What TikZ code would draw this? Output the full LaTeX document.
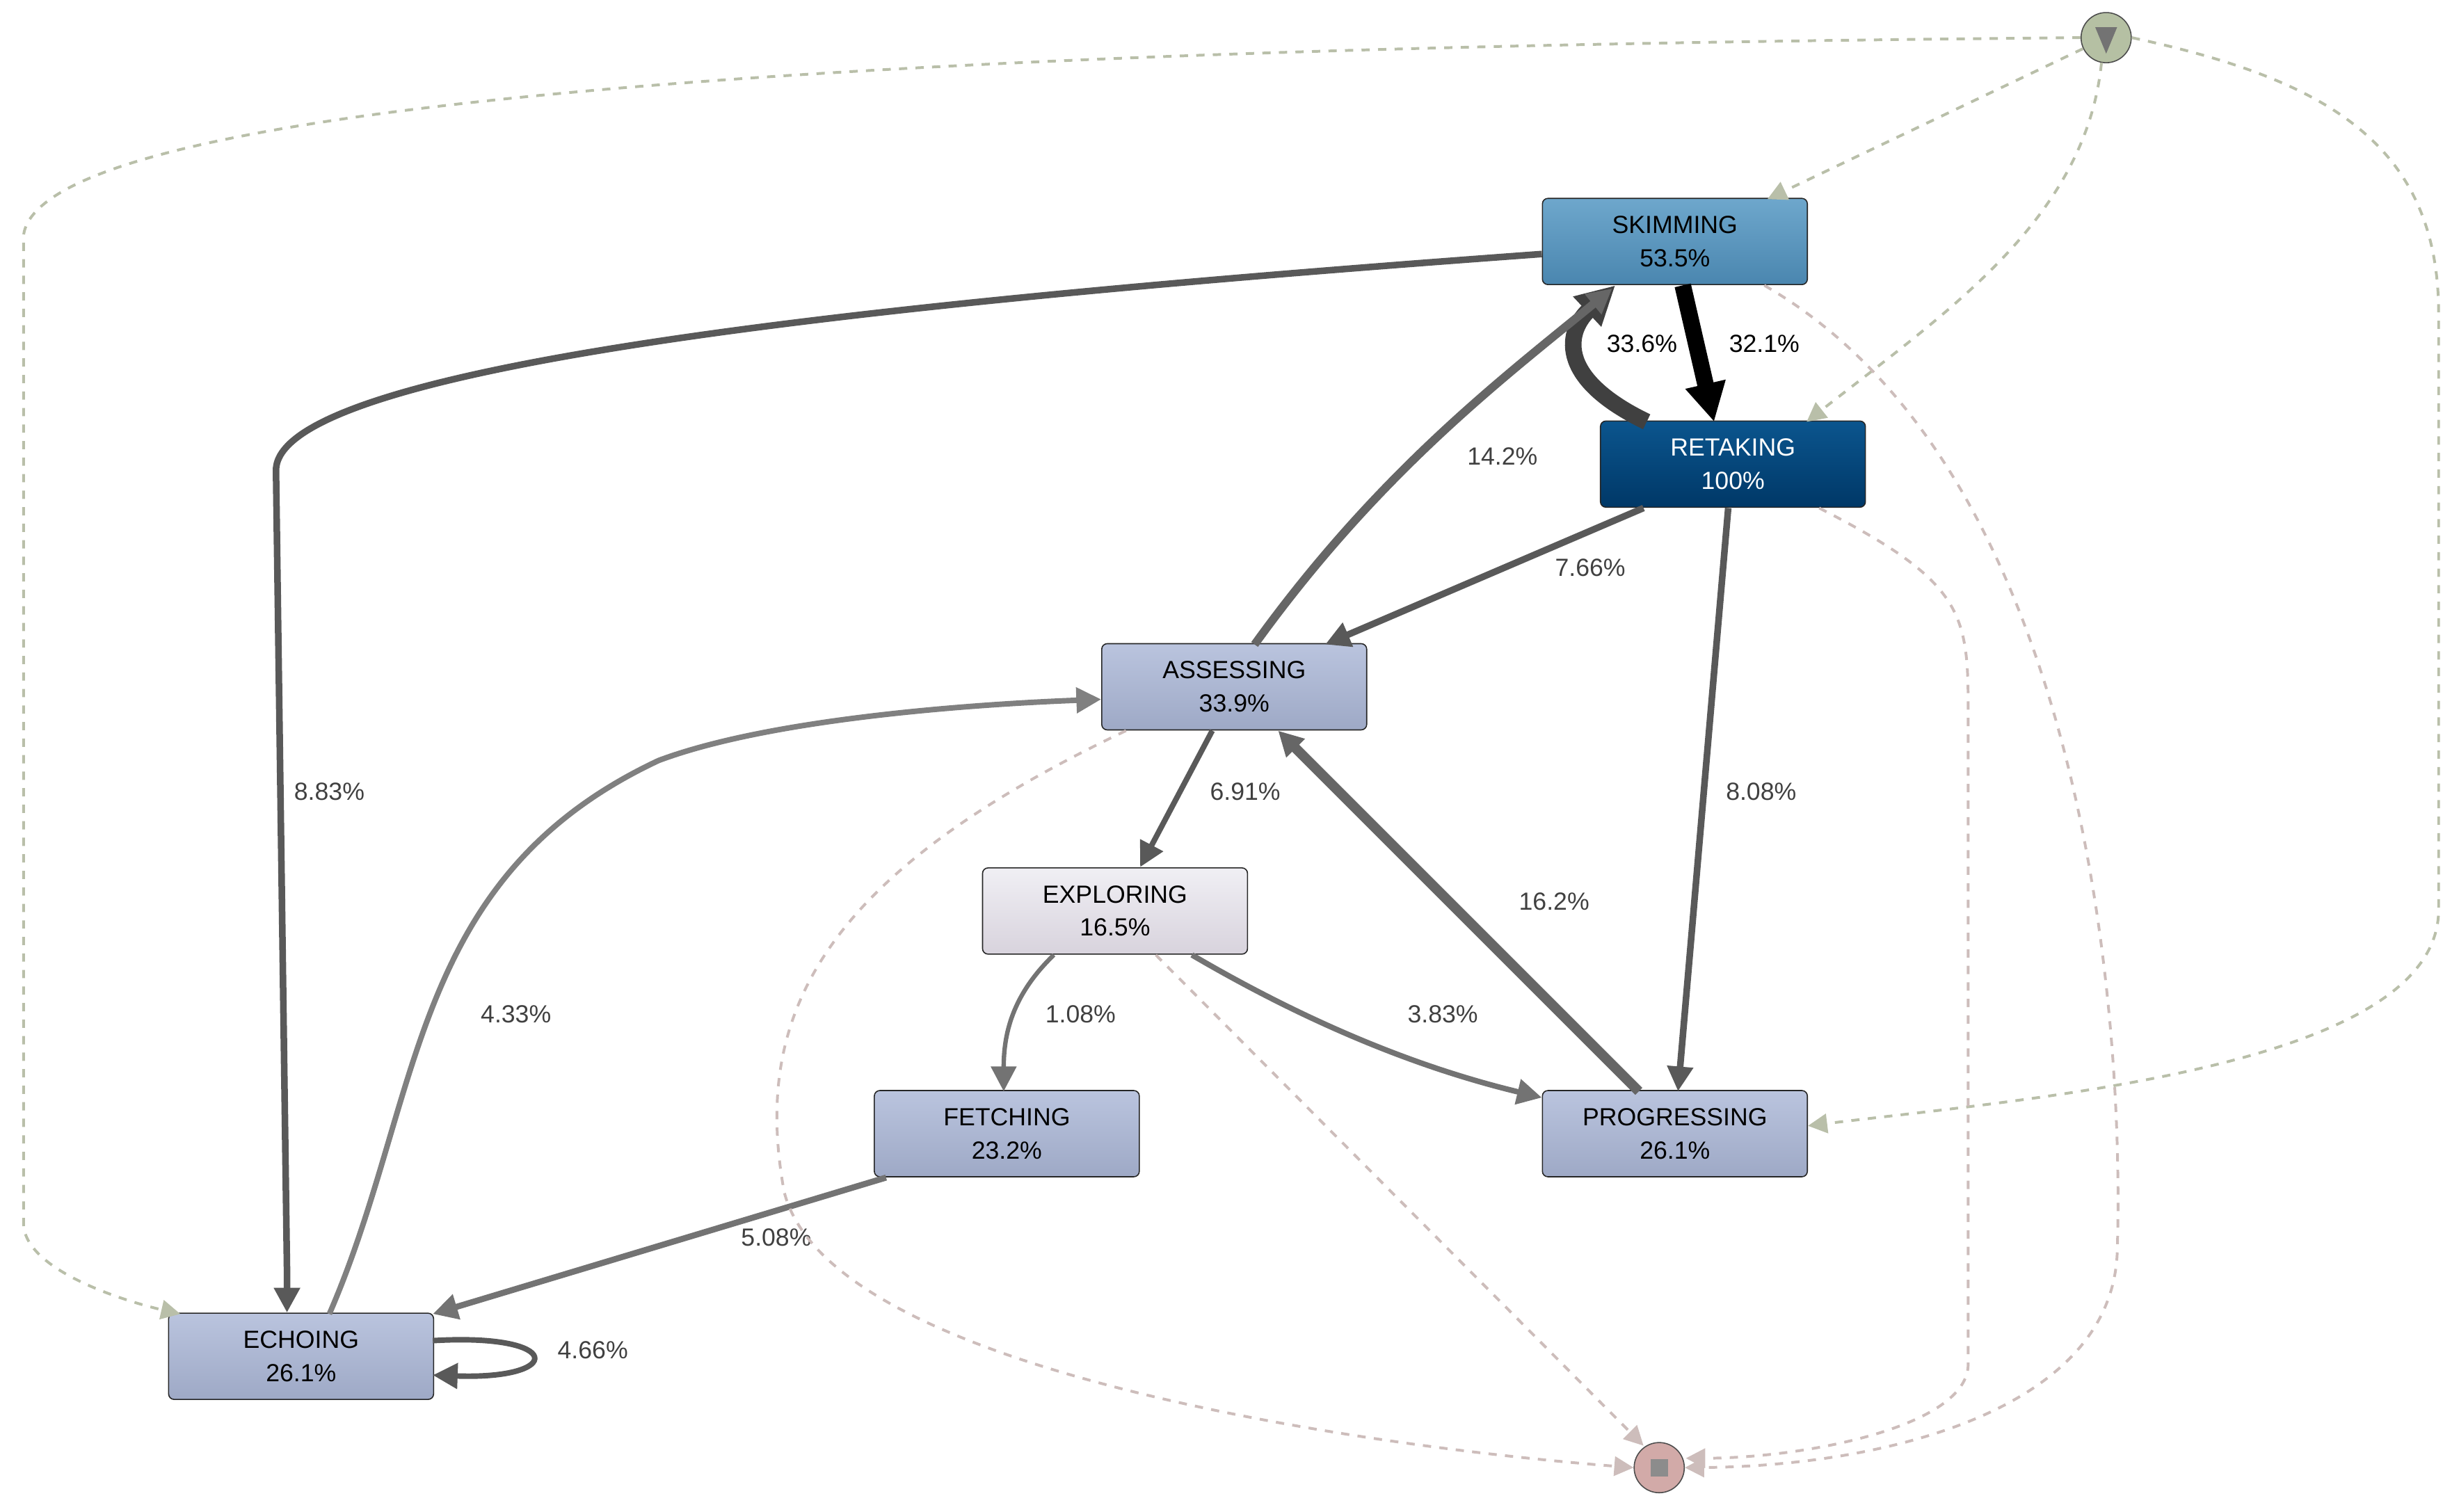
\documentclass[tikz,border=0pt]{standalone}
\usepackage{fontspec}
\setmainfont{Liberation Sans}
\usetikzlibrary{arrows.meta,shapes.geometric}
\definecolor{boxtop}{HTML}{BAC4DE}
\definecolor{boxbot}{HTML}{9EA9C6}
\definecolor{skimtop}{HTML}{6EA7CC}
\definecolor{skimbot}{HTML}{4A86AF}
\definecolor{retaketop}{HTML}{0B558E}
\definecolor{retakebot}{HTML}{003867}
\definecolor{exptop}{HTML}{F0EFF4}
\definecolor{expbot}{HTML}{D8D3DD}
\definecolor{startc}{HTML}{B5C0A3}
\definecolor{endc}{HTML}{D2AAA8}
\definecolor{dstart}{HTML}{B9BFA9}
\definecolor{dend}{HTML}{CDBDBB}
\tikzset{
  act/.style={draw=black!85, rounded corners=2pt, minimum width=3.38cm, minimum height=1.1cm,
    align=center, font=\fontsize{9}{12}\selectfont, top color=boxtop, bottom color=boxbot},
  flow/.style={-{Triangle[length=9pt,width=9pt]}, draw=black!65},
  lbl/.style={font=\fontsize{9}{11}\selectfont, text=black!75},
  tostart/.style={dashed, dstart, line width=1pt, -{Triangle[length=7pt,width=7pt]}},
  toend/.style={dashed, dend, line width=1pt, -{Triangle[length=7pt,width=7pt]}},
}
\begin{document}
\begin{tikzpicture}[x=0.02cm, y=-0.02cm]
  \useasboundingbox (0,0) rectangle (1568,964);
  % activities
  \node[act, top color=skimtop, bottom color=skimbot] (skim) at (1068,154) {SKIMMING\\53.5\%};
  \node[act, top color=retaketop, bottom color=retakebot, text=white] (retake) at (1105,296) {RETAKING\\100\%};
  \node[act] (assess) at (787,438) {ASSESSING\\33.9\%};
  \node[act, top color=exptop, bottom color=expbot] (explore) at (711,581) {EXPLORING\\16.5\%};
  \node[act] (fetch) at (642,723) {FETCHING\\23.2\%};
  \node[act] (progress) at (1068,723) {PROGRESSING\\26.1\%};
  \node[act] (echo) at (192,865) {ECHOING\\26.1\%};
  % start and end
  \node[circle, draw=black!70, fill=startc, minimum size=0.64cm] (start) at (1343,24) {};
  \node[isosceles triangle, shape border rotate=-90, fill=black!55, inner sep=0pt,
    minimum height=0.22cm, minimum width=0.28cm] at (1343,22) {};
  \node[circle, draw=black!70, fill=endc, minimum size=0.64cm] (end) at (1058,936) {};
  \node[fill=black!45, minimum size=0.22cm, inner sep=0pt] at (end) {};
  % flows
  \draw[flow, line width=2.4pt] (skim.west |- 0,162) .. controls (600,190) and (176,230) .. (176,300)
    -- (183,810) -- (echo.north -| 183,0);
  \node[lbl] at (210,505) {8.83\%};
  \draw[flow, line width=6pt, -{Triangle[length=14pt,width=14pt]}, black] (1073,182) -- (1093,269);
  \node[lbl, text=black] at (1125,219) {32.1\%};
  \draw[flow, line width=6pt, -{Triangle[length=14pt,width=14pt]}, black!75] (1050,269)
    .. controls (990,240) and (1000,210) .. (1030,182);
  \node[lbl, text=black] at (1047,219) {33.6\%};
  \draw[flow, line width=3pt, black!60] (800,411) .. controls (880,300) and (960,240) .. (1028,184);
  \node[lbl] at (958,291) {14.2\%};
  \draw[flow, line width=2.4pt] (1048,324) -- (845,411);
  \node[lbl] at (1014,362) {7.66\%};
  \draw[flow, line width=2.4pt] (1102,324) -- (1070,696);
  \node[lbl] at (1123,505) {8.08\%};
  \draw[flow, line width=2pt] (773,466) -- (727,553);
  \node[lbl] at (794,505) {6.91\%};
  \draw[flow, line width=3.6pt, black!60] (1045,696) -- (815,466);
  \node[lbl] at (991,575) {16.2\%};
  \draw[flow, line width=2pt, black!50] (210,838) .. controls (270,700) and (260,560) .. (420,485)
    .. controls (500,455) and (650,448) .. (assess.west |- 0,446);
  \node[lbl] at (329,647) {4.33\%};
  \draw[flow, line width=1.6pt, black!55] (672,609) .. controls (645,635) and (640,660) .. (640,696);
  \node[lbl] at (689,647) {1.08\%};
  \draw[flow, line width=2pt, black!55] (760,609) .. controls (830,650) and (900,680) .. (progress.west |- 0,700);
  \node[lbl] at (920,647) {3.83\%};
  \draw[flow, line width=2.2pt, black!55] (565,751) -- (276,838);
  \node[lbl] at (495,789) {5.08\%};
  \draw[flow, line width=2pt] (276,855) .. controls (360,850) and (360,880) .. (276,877);
  \node[lbl] at (378,861) {4.66\%};
  % start edges
  \draw[tostart] (start.west) .. controls (900,28) and (30,40) .. (15,150) -- (15,780)
    .. controls (15,810) and (80,830) .. (115,838);
  \draw[tostart] (start) -- (1127,127);
  \draw[tostart] (1340,40) .. controls (1330,140) and (1240,200) .. (1152,269);
  \draw[tostart] (start.east) .. controls (1480,50) and (1555,90) .. (1555,200) -- (1555,580)
    .. controls (1555,680) and (1300,700) .. (progress.east |- 0,718);
  % end edges
  \draw[toend] (1125,182) .. controls (1330,300) and (1355,650) .. (1350,800)
    .. controls (1345,900) and (1200,935) .. (end.east);
  \draw[toend] (1160,324) .. controls (1250,370) and (1255,390) .. (1255,450) -- (1255,870)
    .. controls (1255,910) and (1150,930) .. (1075,930);
  \draw[toend] (718,466) .. controls (520,560) and (480,650) .. (500,760)
    .. controls (530,880) and (900,925) .. (end.west);
  \draw[toend] (737,609) -- (1048,922);
\end{tikzpicture}
\end{document}
